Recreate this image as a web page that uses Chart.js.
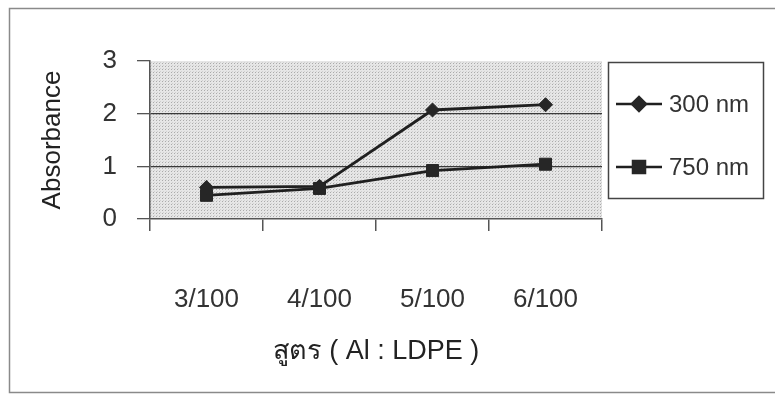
<!DOCTYPE html>
<html>
<head>
<meta charset="utf-8">
<script src="https://cdn.jsdelivr.net/npm/chart.js@4/dist/chart.umd.min.js"></script>
<style>
  html, body { margin: 0; padding: 0; background: #fff; }
  #wrap { width: 775px; height: 395px; position: relative; }
</style>
</head>
<body>
<div id="wrap"><canvas id="c" width="775" height="395"></canvas></div>
<script>
// Absorbance of Al : LDPE formulations at two wavelengths
const categories = ['3/100', '4/100', '5/100', '6/100'];
const absorbance300 = [0.60, 0.62, 2.07, 2.17];
const absorbance750 = [0.45, 0.58, 0.92, 1.04];
const seriesNames = ['300 nm', '750 nm'];
const yTickValues = [0, 1, 2, 3];
const xTitle = 'สูตร ( Al : LDPE )';
const yTitle = 'Absorbance';

const FONT = "'Liberation Sans', Arial, sans-serif";
const AXIS = '#555555';

// stippled grey fill for the plotting area
function makeStipple() {
  const p = document.createElement('canvas');
  p.width = 3; p.height = 3;
  const g = p.getContext('2d');
  g.fillStyle = '#e6e6e6';
  g.fillRect(0, 0, 3, 3);
  g.fillStyle = '#ababab';
  g.fillRect(0, 0, 1, 1);
  g.fillStyle = '#d0d0d0';
  g.fillRect(1, 2, 1, 1);
  return p;
}

const backdrop = {
  id: 'backdrop',
  beforeDraw(chart) {
    const { ctx, chartArea: a } = chart;
    ctx.save();
    ctx.fillStyle = '#ffffff';
    ctx.fillRect(0, 0, chart.width, chart.height);
    // outer frame
    ctx.strokeStyle = '#8a8a8a';
    ctx.lineWidth = 1.5;
    ctx.strokeRect(9.5, 8.5, chart.width + 10, 384);
    // plot area
    ctx.fillStyle = ctx.createPattern(makeStipple(), 'repeat');
    ctx.fillRect(a.left, a.top, a.right - a.left, a.bottom - a.top);
    ctx.restore();
  }
};

const boxedLegend = {
  id: 'boxedLegend',
  afterDraw(chart) {
    const { ctx } = chart;
    const box = { left: 608, top: 62, right: 763, bottom: 198 };
    ctx.save();
    ctx.strokeStyle = '#444';
    ctx.lineWidth = 1.5;
    ctx.strokeRect(box.left + 0.5, box.top + 0.5, box.right - box.left, box.bottom - box.top);
    const rows = [104, 167];
    chart.data.datasets.forEach((ds, i) => {
      const y = rows[i];
      ctx.strokeStyle = ds.borderColor;
      ctx.lineWidth = 2.5;
      ctx.beginPath();
      ctx.moveTo(616, y);
      ctx.lineTo(662, y);
      ctx.stroke();
      ctx.fillStyle = ds.pointBackgroundColor;
      ctx.strokeStyle = ds.pointBorderColor;
      Chart.helpers.drawPoint(ctx, {
        pointStyle: ds.pointStyle,
        radius: ds.pointRadius,
        rotation: 0,
        borderWidth: 1
      }, 639, y);
      ctx.fillStyle = '#333';
      ctx.font = '24px ' + FONT;
      ctx.textAlign = 'left';
      ctx.textBaseline = 'middle';
      ctx.fillText(ds.label, 669, y + 1);
    });
    ctx.restore();
  }
};

new Chart(document.getElementById('c'), {
  type: 'line',
  data: {
    labels: categories,
    datasets: [
      {
        label: seriesNames[0],
        data: absorbance300,
        borderColor: '#1f1f1f',
        borderWidth: 2.8,
        pointStyle: 'rectRot',
        pointRadius: 7,
        pointBackgroundColor: '#262626',
        pointBorderColor: '#262626',
        pointBorderWidth: 1,
        tension: 0,
        clip: false
      },
      {
        label: seriesNames[1],
        data: absorbance750,
        borderColor: '#1f1f1f',
        borderWidth: 2.8,
        pointStyle: 'rect',
        pointRadius: 8.5,
        pointBackgroundColor: '#262626',
        pointBorderColor: '#262626',
        pointBorderWidth: 1,
        tension: 0,
        clip: false
      }
    ]
  },
  options: {
    responsive: false,
    animation: false,
    devicePixelRatio: 1,
    layout: { padding: { left: 0, top: 61, right: 173, bottom: 0 } },
    plugins: {
      legend: { display: false },
      tooltip: { enabled: false }
    },
    scales: {
      x: {
        type: 'category',
        offset: true,
        afterFit(scale) { scale.height = 176; },
        grid: {
          offset: true,
          drawOnChartArea: false,
          tickLength: 12,
          tickColor: AXIS,
          lineWidth: 1.5
        },
        border: { color: AXIS, width: 1.5 },
        ticks: {
          padding: 53,
          color: '#333',
          font: { family: FONT, size: 26 },
          maxRotation: 0
        },
        title: {
          display: true,
          text: xTitle,
          color: '#222',
          font: { family: FONT, size: 27 },
          padding: { top: 0, bottom: 27 }
        }
      },
      y: {
        min: 0,
        max: 3,
        afterFit(scale) { scale.width = 150; },
        afterBuildTicks(scale) { scale.ticks = yTickValues.map(v => ({ value: v })); },
        grid: {
          color: ctx => (ctx.tick && (ctx.tick.value === 1 || ctx.tick.value === 2)) ? '#3a3a3a' : 'rgba(0,0,0,0)',
          lineWidth: 1.3,
          tickColor: AXIS,
          tickLength: 13
        },
        border: { color: AXIS, width: 1.5 },
        ticks: {
          padding: 20,
          color: '#333',
          font: { family: FONT, size: 26 }
        },
        title: {
          display: true,
          text: yTitle,
          color: '#222',
          font: { family: FONT, size: 26 },
          padding: { top: 37, bottom: 0 }
        }
      }
    }
  },
  plugins: [backdrop, boxedLegend]
});
</script>
</body>
</html>
